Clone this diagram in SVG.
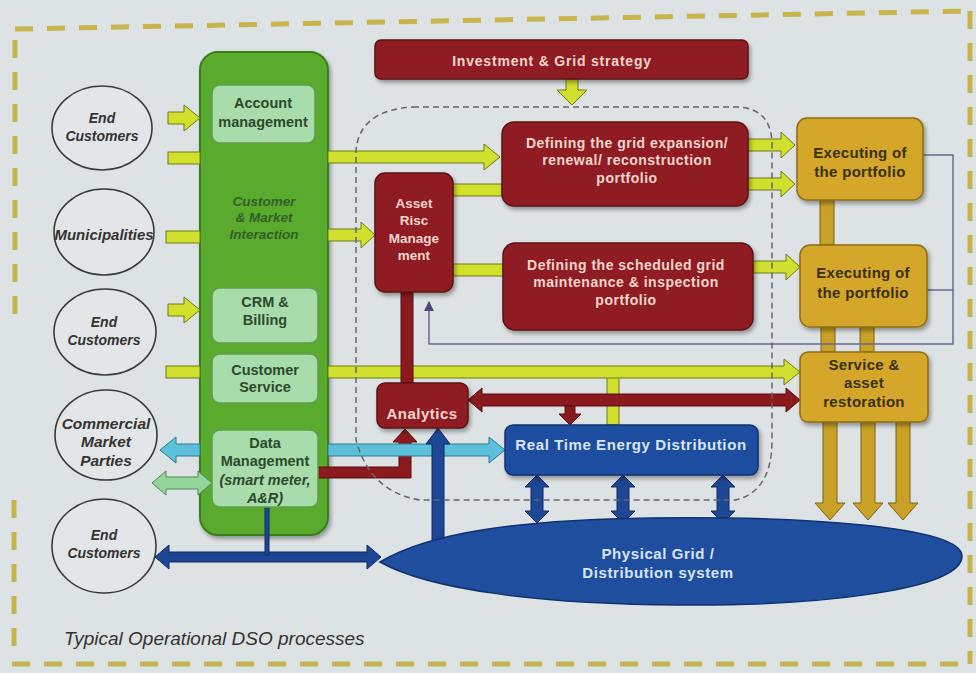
<svg xmlns="http://www.w3.org/2000/svg" width="976" height="673" viewBox="0 0 976 673">
<style>
.frame{fill:none;stroke:#c8b44c;stroke-width:5;stroke-dasharray:18 14}
.ell{fill:#e2e6e8;stroke:#3a3a3a;stroke-width:1.6}
.etxt{font-family:"Liberation Sans",Arial,sans-serif;font-weight:bold;font-style:italic;font-size:14px;fill:#333;text-anchor:middle}
.gbig{fill:#5aaa2e;stroke:#3b7d1f;stroke-width:2}
.gbox{fill:#a8dcaa;stroke:#5f9f4f;stroke-width:1.5}
.gtxt{font-family:"Liberation Sans",Arial,sans-serif;font-weight:bold;font-size:14.5px;fill:#2d4a2d;text-anchor:middle}
.gital{font-family:"Liberation Sans",Arial,sans-serif;font-weight:bold;font-style:italic;font-size:13.5px;fill:#335f27;text-anchor:middle}
.rbox{fill:#8f1c20;stroke:#5e1013;stroke-width:1.5}
.rtxt{font-family:"Liberation Sans",Arial,sans-serif;font-weight:bold;font-size:14px;letter-spacing:0.5px;fill:#f3d5cd;text-anchor:middle}
.ybox{fill:#d4a62a;stroke:#8e6f14;stroke-width:1.5}
.ytxt{font-family:"Liberation Sans",Arial,sans-serif;font-weight:bold;font-size:15px;letter-spacing:0.3px;fill:#3b3010;text-anchor:middle}
.bbox{fill:#1f4e9e;stroke:#12326e;stroke-width:1.5}
.btxt{font-family:"Liberation Sans",Arial,sans-serif;font-weight:bold;font-size:15px;letter-spacing:0.6px;fill:#d9e5f7;text-anchor:middle}
.lime{fill:#d0e02c;stroke:#6f7a1a;stroke-width:1}
.gold{fill:#c9a127;stroke:#7d6211;stroke-width:1}
.red{fill:#8a1a1d;stroke:#5a0d10;stroke-width:1}
.cyan{fill:#5cc0da;stroke:#2a7d95;stroke-width:1}
.lg{fill:#93d59b;stroke:#4e8a55;stroke-width:1}
.blue{fill:#1d4694;stroke:#0f2a66;stroke-width:1}
.thin{fill:none;stroke:#6a6a90;stroke-width:1.5}
.dash{fill:none;stroke:#666;stroke-width:1.5;stroke-dasharray:6 4}
.cap{font-family:"Liberation Sans",Arial,sans-serif;font-style:italic;font-size:19px;fill:#333}
</style>
<defs>
<filter id="sh" x="-10%" y="-10%" width="125%" height="130%">
<feDropShadow dx="2" dy="3" stdDeviation="2" flood-color="#000" flood-opacity="0.35"/>
</filter>
<marker id="tip" markerWidth="10" markerHeight="10" refX="9" refY="5" orient="auto" markerUnits="userSpaceOnUse">
<path d="M0,0 L10,5 L0,10 Z" fill="#4a4a80"/>
</marker>
</defs>
<rect width="976" height="673" fill="#dde2e4"/>
<g id="frame">
<line class="frame" x1="15" y1="29" x2="970" y2="11"/>
<line class="frame" x1="970" y1="11" x2="970" y2="664"/>
<line class="frame" x1="12" y1="664" x2="970" y2="664"/>
<line class="frame" x1="15" y1="40" x2="15" y2="315"/>
<line class="frame" x1="14" y1="500" x2="14" y2="656"/>
</g>

<g id="end-customers-1"><ellipse class="ell" cx="102" cy="128" rx="50" ry="42"/><text class="etxt" x="102" y="123">End</text><text class="etxt" x="102" y="141">Customers</text></g>
<g id="municipalities"><ellipse class="ell" cx="104" cy="232" rx="50" ry="43"/><text class="etxt" x="104" y="240" style="font-size:15px">Municipalities</text></g>
<g id="end-customers-2"><ellipse class="ell" cx="105" cy="332" rx="51" ry="43"/><text class="etxt" x="104" y="327">End</text><text class="etxt" x="104" y="345">Customers</text></g>
<g id="commercial-market-parties"><ellipse class="ell" cx="106" cy="435" rx="51" ry="45"/><text class="etxt" x="106" y="429" style="font-size:15.5px">Commercial</text><text class="etxt" x="106" y="447" style="font-size:15.5px">Market</text><text class="etxt" x="106" y="466" style="font-size:15.5px">Parties</text></g>
<g id="end-customers-3"><ellipse class="ell" cx="104" cy="546" rx="52" ry="47"/><text class="etxt" x="104" y="540">End</text><text class="etxt" x="104" y="558">Customers</text></g>

<g id="customer-market-interaction">
<rect class="gbig" x="200" y="52" width="128" height="483" rx="18" filter="url(#sh)"/>
<text class="gital" x="264" y="206">Customer</text>
<text class="gital" x="264" y="222">&amp; Market</text>
<text class="gital" x="264" y="239">Interaction</text>
</g>

<g id="connectors">
<polygon class="lime" points="168,112 184,112 184,105 200,118 184,131 184,124 168,124"/>
<rect class="lime" x="168" y="152" width="32" height="12"/>
<polygon class="lime" points="328,151 484,151 484,144 500,157 484,170 484,163 328,163"/>
<rect class="lime" x="166" y="231" width="34" height="12"/>
<polygon class="lime" points="328,229 361,229 361,222 375,235 361,248 361,241 328,241"/>
<polygon class="lime" points="168,304 184,304 184,297 200,310 184,323 184,316 168,316"/>
<rect class="lime" x="166" y="366" width="34" height="12"/>
<rect class="lime" x="607" y="372" width="12" height="53"/>
<polygon class="lime" points="328,366 784,366 784,359 800,372 784,385 784,378 328,378"/>
<rect class="lime" x="453" y="184" width="49" height="12"/>
<rect class="lime" x="453" y="264" width="50" height="12"/>
<polygon class="lime" points="748,139 781,139 781,132 795,145 781,158 781,151 748,151"/>
<polygon class="lime" points="748,178 781,178 781,171 795,184 781,197 781,190 748,190"/>
<polygon class="lime" points="753,261 786,261 786,254 800,267 786,280 786,273 753,273"/>
<polygon class="lime" points="566,79 578,79 578,90 587,90 572,105 557,90 566,90"/>
<rect class="gold" x="820" y="200" width="14" height="45"/>
<rect class="gold" x="821" y="327" width="14" height="25"/>
<rect class="gold" x="860" y="327" width="14" height="25"/>
<polygon class="gold" points="823,422 837,422 837,503 845,503 830,520 815,503 823,503"/>
<polygon class="gold" points="861,422 875,422 875,503 883,503 868,520 853,503 861,503"/>
<polygon class="gold" points="896,422 910,422 910,503 918,503 903,520 888,503 896,503"/>
<polyline class="thin" points="923,155 953,155 953,344 429,344 429,302" marker-end="url(#tip)"/>
<line class="thin" x1="927" y1="290" x2="953" y2="290"/>
<rect class="red" x="401" y="292" width="12" height="91"/>
<polygon class="red" points="468,400 482,388 482,394 786,394 786,388 800,400 786,412 786,406 482,406 482,412"/>
<polygon class="red" points="565,406 575,406 575,414 581,414 570,425 559,414 565,414"/>
<polygon class="red" points="318,467 399,467 399,442 393,442 405,429 417,442 411,442 411,478 318,478"/>
<polygon class="cyan" points="160,450 176,437 176,444 200,444 200,456 176,456 176,463"/>
<polygon class="cyan" points="328,444 489,444 489,437 505,450 489,463 489,456 328,456"/>
<polygon class="lg" points="152,483 166,471 166,477 198,477 198,471 212,483 198,495 198,489 166,489 166,495"/>
<polygon class="blue" points="155,557 169,545 169,552 367,552 367,545 381,557 367,569 367,562 169,562 169,569"/>
<rect class="blue" x="265" y="507" width="4" height="48"/>
<polygon class="blue" points="432,542 432,444 426,444 438,428 450,444 444,444 444,542"/>
<polygon class="blue" points="537,475 549,487 543,487 543,511 549,511 537,523 525,511 531,511 531,487 525,487"/>
<polygon class="blue" points="623,475 635,487 629,487 629,511 635,511 623,523 611,511 617,511 617,487 611,487"/>
<polygon class="blue" points="723,475 735,487 729,487 729,511 735,511 723,523 711,511 717,511 717,487 711,487"/>
<path class="dash" d="M413,107 L740,107 Q772,110 772,145 L772,440 Q772,492 735,500 L420,500 Q370,492 356,440 L356,150 Q360,110 413,107 Z"/>
</g>

<g id="account-management"><rect class="gbox" x="212" y="85" width="103" height="58" rx="8"/><text class="gtxt" x="263" y="108">Account</text><text class="gtxt" x="263" y="127">management</text></g>
<g id="crm-billing"><rect class="gbox" x="212" y="288" width="106" height="55" rx="8"/><text class="gtxt" x="265" y="307">CRM &amp;</text><text class="gtxt" x="265" y="325">Billing</text></g>
<g id="customer-service"><rect class="gbox" x="212" y="354" width="106" height="49" rx="8"/><text class="gtxt" x="265" y="375">Customer</text><text class="gtxt" x="265" y="392">Service</text></g>
<g id="data-management"><rect class="gbox" x="212" y="430" width="106" height="77" rx="8"/><text class="gtxt" x="265" y="448">Data</text><text class="gtxt" x="265" y="466">Management</text><text class="gtxt" x="265" y="485" style="font-style:italic">(smart meter,</text><text class="gtxt" x="265" y="503" style="font-style:italic">A&amp;R)</text></g>

<g id="investment-grid-strategy"><rect class="rbox" x="375" y="40" width="373" height="39" rx="6" filter="url(#sh)"/><text class="rtxt" x="552" y="66" style="letter-spacing:0.8px">Investment &amp; Grid  strategy</text></g>
<g id="grid-expansion-portfolio"><rect class="rbox" x="502" y="122" width="246" height="84" rx="12" filter="url(#sh)"/><text class="rtxt" x="627" y="148">Defining the grid expansion/</text><text class="rtxt" x="627" y="165">renewal/ reconstruction</text><text class="rtxt" x="627" y="183">portfolio</text></g>
<g id="asset-risc-management"><rect class="rbox" x="375" y="173" width="78" height="119" rx="10" filter="url(#sh)"/><text class="rtxt" x="414" y="208" style="font-size:13.5px;letter-spacing:0">Asset</text><text class="rtxt" x="414" y="225" style="font-size:13.5px;letter-spacing:0">Risc</text><text class="rtxt" x="414" y="243" style="font-size:13.5px;letter-spacing:0">Manage</text><text class="rtxt" x="414" y="260" style="font-size:13.5px;letter-spacing:0">ment</text></g>
<g id="maintenance-portfolio"><rect class="rbox" x="503" y="243" width="250" height="87" rx="12" filter="url(#sh)"/><text class="rtxt" x="626" y="270">Defining the scheduled grid</text><text class="rtxt" x="626" y="287">maintenance &amp; inspection</text><text class="rtxt" x="626" y="305">portfolio</text></g>
<g id="analytics"><rect class="rbox" x="377" y="383" width="91" height="45" rx="8" filter="url(#sh)"/><text class="rtxt" x="422" y="419" style="font-size:15px">Analytics</text></g>

<g id="executing-1"><rect class="ybox" x="797" y="118" width="126" height="82" rx="10" filter="url(#sh)"/><text class="ytxt" x="860" y="158">Executing of</text><text class="ytxt" x="860" y="177">the portfolio</text></g>
<g id="executing-2"><rect class="ybox" x="800" y="245" width="127" height="82" rx="10" filter="url(#sh)"/><text class="ytxt" x="863" y="278">Executing of</text><text class="ytxt" x="863" y="298">the portfolio</text></g>
<g id="service-asset-restoration"><rect class="ybox" x="800" y="352" width="128" height="70" rx="8" filter="url(#sh)"/><text class="ytxt" x="864" y="370">Service &amp;</text><text class="ytxt" x="864" y="388">asset</text><text class="ytxt" x="864" y="407">restoration</text></g>

<g id="real-time-energy-distribution"><rect class="bbox" x="505" y="425" width="253" height="50" rx="8" filter="url(#sh)"/><text class="btxt" x="631" y="450">Real Time  Energy Distribution</text></g>
<g id="physical-grid"><path class="bbox" d="M380,562 C430,532 520,520 650,518 C800,516 962,526 962,556 C962,590 820,606 680,605 C540,604 430,590 380,562 Z"/><text class="btxt" x="658" y="559">Physical Grid /</text><text class="btxt" x="658" y="578">Distribution system</text></g>

<text class="cap" x="64" y="645">Typical Operational DSO processes</text>
</svg>
